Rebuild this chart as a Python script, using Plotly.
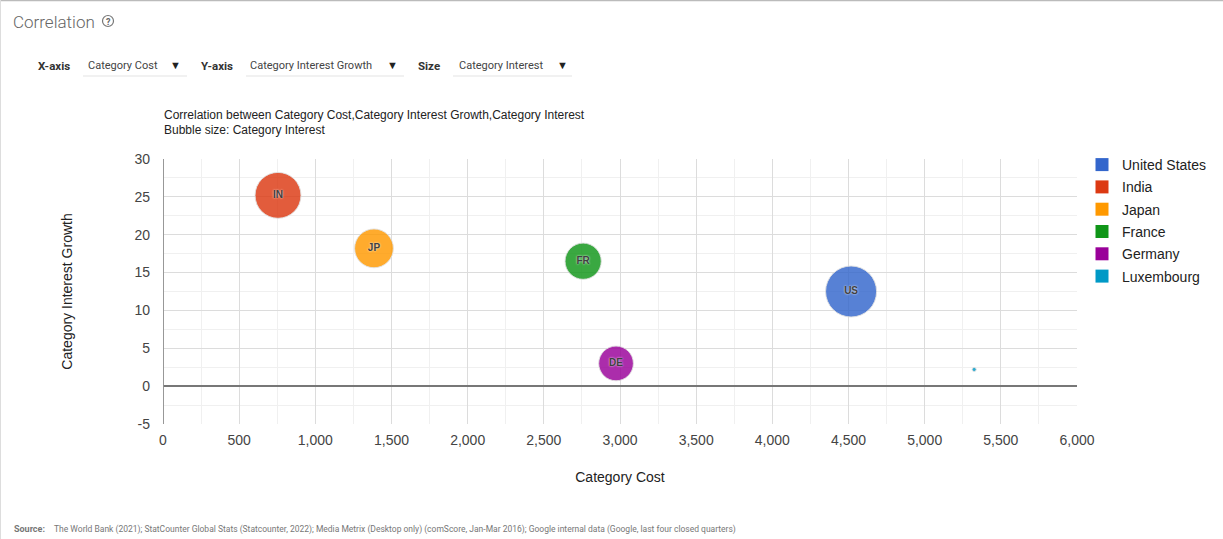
import plotly.graph_objects as go

# ---- data ----
countries = ["United States", "India", "Japan", "France", "Germany", "Luxembourg"]
codes = ["US", "IN", "JP", "FR", "DE", "LU"]
category_cost = [4517, 755, 1385, 2758, 2974, 5325]
interest_growth = [12.5, 25.2, 18.2, 16.5, 3.0, 2.2]
category_interest = [100, 90, 76, 71, 68, 8]
colors = ["#3366CC", "#DC3912", "#FF9900", "#109618", "#990099", "#0099C6"]

x_ticks = list(range(0, 6001, 500))
y_ticks = list(range(-5, 31, 5))
y_tick_labels = [str(v) for v in y_ticks]

W, H = 1223, 539
L, R, T, B = 163, 1077, 159, 424


def px(x):
    return (x - L) / (R - L)


def py(y):
    return (B - y) / (B - T)


fig = go.Figure()

for i, c in enumerate(countries):
    fig.add_trace(go.Scatter(
        x=[category_cost[i]], y=[interest_growth[i]],
        mode="markers+text" if codes[i] != "LU" else "markers",
        text=[codes[i]], textposition="middle center",
        textfont=dict(family="Arial", size=10, color="#404040", weight="bold",
                      shadow="0px 0px 2px white"),
        marker=dict(size=[category_interest[i]], sizemode="diameter", sizeref=1.96,
                    color=colors[i], opacity=0.82,
                    line=dict(color="rgba(220,220,220,0.9)", width=1)),
        name=c, legendgroup=c, showlegend=False, hoverinfo="text",
        hovertext=[f"{c}<br>Cost: {category_cost[i]}<br>Growth: {interest_growth[i]}"],
    ))

# legend entries (square swatches)
for i, c in enumerate(countries):
    fig.add_trace(go.Scatter(
        x=[None], y=[None], mode="markers", name=c, legendgroup=c,
        marker=dict(symbol="square", size=13, color=colors[i]),
        showlegend=True,
    ))

fig.update_layout(
    width=W, height=H,
    margin=dict(l=L, r=W - R, t=T, b=H - B, autoexpand=False),
    paper_bgcolor="white", plot_bgcolor="white",
    font=dict(family="Arial", color="#444"),
    showlegend=True,
    legend=dict(x=px(1082), y=py(149), xanchor="left", yanchor="top",
                font=dict(family="Arial", size=14, color="#222"),
                traceorder="grouped", tracegroupgap=1.1,
                itemwidth=30, bgcolor="rgba(0,0,0,0)"),
    xaxis=dict(range=[0, 6000], tickvals=x_ticks, tickformat=",d",
               showgrid=True, gridcolor="#dcdcdc", gridwidth=1,
               minor=dict(dtick=250, showgrid=True, gridcolor="#f0f0f0"),
               zeroline=True, zerolinecolor="#999", zerolinewidth=1,
               showline=False, ticks="", ticklabelstandoff=6,
               tickfont=dict(family="Arial", size=14, color="#444"),
               title=dict(text="Category Cost", standoff=25,
                          font=dict(family="Arial", size=14, color="#222")),
               fixedrange=True),
    yaxis=dict(range=[-5, 30], tickvals=y_ticks, ticktext=y_tick_labels,
               showgrid=True, gridcolor="#dcdcdc", gridwidth=1,
               minor=dict(dtick=2.5, showgrid=True, gridcolor="#f0f0f0"),
               zeroline=True, zerolinecolor="#777", zerolinewidth=1.5,
               showline=False, ticks="", ticklabelstandoff=12,
               tickfont=dict(family="Arial", size=14, color="#444"),
               title=dict(text="Category Interest Growth", standoff=58,
                          font=dict(family="Arial", size=14, color="#222")),
               fixedrange=True),
)

annots = []
shapes = []


def text(x, y, s, size, color, family="Roboto", weight="normal", xanchor="left"):
    annots.append(dict(x=px(x), y=py(y), xref="paper", yref="paper", text=s,
                       showarrow=False, xanchor=xanchor, yanchor="middle",
                       font=dict(family=family, size=size, color=color, weight=weight)))


# header
text(11, 22, "Correlation", 17, "#666", weight=300)
shapes.append(dict(type="circle", xref="paper", yref="paper",
                   x0=px(102.5), x1=px(113.5), y0=py(15.5), y1=py(26.5),
                   line=dict(color="#777", width=1.2)))
text(108, 21.5, "?", 9, "#666", xanchor="center", weight="bold")

# dropdown row
text(36, 66, "X-axis", 11.5, "#333", weight="bold")
text(86, 65, "Category Cost", 11, "#444")
text(175, 65, "▼", 11, "#222", xanchor="center")
text(199, 66, "Y-axis", 11.5, "#333", weight="bold")
text(248, 65, "Category Interest Growth", 11, "#444")
text(392, 65, "▼", 11, "#222", xanchor="center")
text(416, 66, "Size", 11.5, "#333", weight="bold")
text(457, 65, "Category Interest", 11, "#444")
text(562, 65, "▼", 11, "#222", xanchor="center")
for a, b in [(83, 187), (246, 404), (453, 572)]:
    shapes.append(dict(type="line", xref="paper", yref="paper",
                       x0=px(a), x1=px(b), y0=py(76), y1=py(76),
                       line=dict(color="#e3e3e3", width=1)))

# chart title
text(162, 115, "Correlation between Category Cost,Category Interest Growth,Category Interest",
     12, "#222", family="Arial")
text(162, 130, "Bubble size: Category Interest", 12, "#222", family="Arial")

# left axis line (x = 0)
shapes.append(dict(type="line", xref="x", yref="y", x0=0, x1=0, y0=-5, y1=30,
                   line=dict(color="#999", width=1.5), layer="above"))

# source
text(12, 529, "Source:", 9, "#777", weight="bold")
text(52, 529, "The World Bank (2021); StatCounter Global Stats (Statcounter, 2022); "
     "Media Metrix (Desktop only) (comScore, Jan-Mar 2016); Google internal data "
     "(Google, last four closed quarters)", 8.5, "#777")

# frame
shapes.append(dict(type="line", xref="paper", yref="paper",
                   x0=px(0), x1=px(W), y0=py(0.5), y1=py(0.5),
                   line=dict(color="#bbb", width=1.5)))
shapes.append(dict(type="line", xref="paper", yref="paper",
                   x0=px(0.5), x1=px(0.5), y0=py(0), y1=py(H),
                   line=dict(color="#ddd", width=1)))

fig.update_layout(annotations=annots, shapes=shapes)
fig.write_html("out.html", config={"displayModeBar": False})
